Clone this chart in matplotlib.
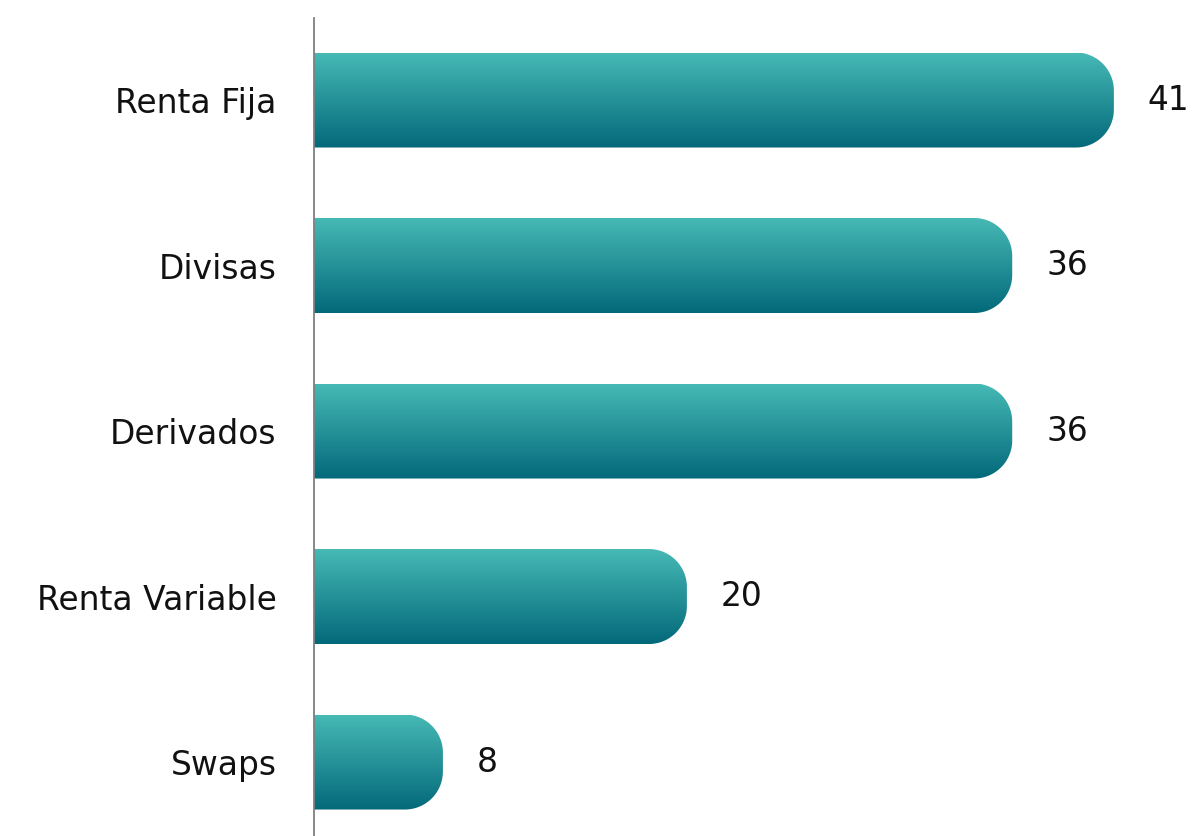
import numpy as np
import matplotlib
matplotlib.use('Agg')
import matplotlib.pyplot as plt
from matplotlib.path import Path
from matplotlib.patches import PathPatch
from matplotlib.colors import LinearSegmentedColormap

# datos
categorias = ['Renta Fija', 'Divisas', 'Derivados', 'Renta Variable', 'Swaps']
valores = [41, 36, 36, 20, 8]

color_top = '#46B9B5'
color_bottom = '#03697A'
cmap = LinearSegmentedColormap.from_list('grad', [color_top, color_bottom])

fig = plt.figure(figsize=(11.95, 8.36), dpi=100)
ax = fig.add_axes([314 / 1195, 0, 881 / 1195, 1 - 18 / 836])

x_min, x_max = 1.66, 44.99
ax.set_xlim(x_min, x_max)
ax.set_ylim(len(categorias) - 1 + 0.447, -0.4955)

alto = 0.574
# radio de la esquina en pixeles -> unidades de datos
px_x = 881 / (x_max - x_min)
px_y = 818 / (len(categorias) - 1 + 0.447 + 0.4955)
rx = 38 / px_x
ry = 38 / px_y

grad = np.linspace(0, 1, 256).reshape(-1, 1)
fs = 23.7

for i, v in enumerate(valores):
    y0 = i - alto / 2
    y1 = i + alto / 2
    x0 = x_min - 1
    x1 = v
    t = np.linspace(0, np.pi / 2, 30)
    pts = [(x0, y0), (x1 - rx, y0)]
    pts += list(zip(x1 - rx + rx * np.sin(t), y0 + ry - ry * np.cos(t)))
    pts += list(zip(x1 - rx + rx * np.cos(t), y1 - ry + ry * np.sin(t)))
    pts += [(x0, y1), (x0, y0)]
    codes = [Path.MOVETO] + [Path.LINETO] * (len(pts) - 2) + [Path.CLOSEPOLY]
    patch = PathPatch(Path(pts, codes), facecolor='none', edgecolor='none')
    ax.add_patch(patch)
    # fila 0 arriba (claro), abajo oscuro
    im = ax.imshow(grad, extent=(x0, x1, y1, y0), origin='upper', cmap=cmap,
                   aspect='auto', interpolation='bicubic', zorder=1)
    im.set_clip_path(patch)
    ax.annotate(str(v), xy=(v, i), xytext=(24.5, 0), textcoords='offset points',
                ha='left', va='center', fontsize=fs, color='#111111')

ax.set_xlim(x_min, x_max)
ax.set_ylim(len(categorias) - 1 + 0.447, -0.4955)
ax.set_yticks(range(len(categorias)))
ax.set_yticklabels(categorias, fontsize=fs, color='#111111')
ax.set_xticks([])
ax.tick_params(axis='y', length=0, pad=27)
for s in ['top', 'right', 'bottom']:
    ax.spines[s].set_visible(False)
ax.spines['left'].set_color('#7f7f7f')
ax.spines['left'].set_linewidth(1.3)
ax.spines['left'].set_zorder(3)

fig.savefig('out.png', dpi=100)
